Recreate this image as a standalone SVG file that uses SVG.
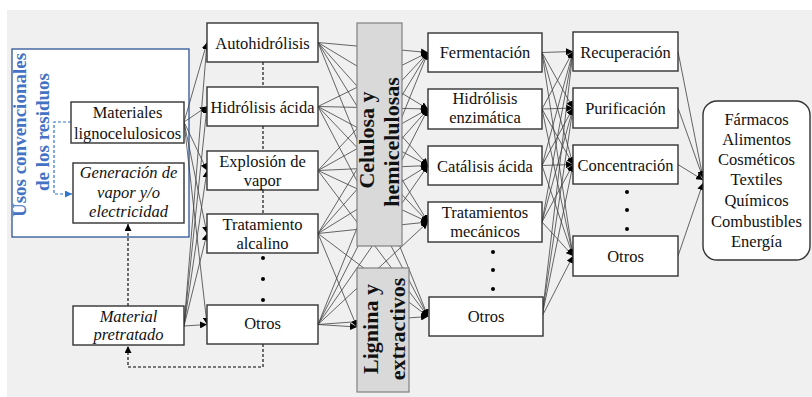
<svg xmlns="http://www.w3.org/2000/svg" width="812" height="397" viewBox="0 0 812 397">
<defs>
<marker id="a" viewBox="0 0 10 10" refX="10" refY="5" markerWidth="7" markerHeight="7" markerUnits="userSpaceOnUse" orient="auto"><path d="M0,0 L10,5 L0,10 z" fill="#000"/></marker>
<marker id="ab" viewBox="0 0 10 10" refX="10" refY="5" markerWidth="7" markerHeight="7" markerUnits="userSpaceOnUse" orient="auto"><path d="M0,0 L10,5 L0,10 z" fill="#2e75d0"/></marker>
<style>
.bx{fill:#fff;stroke:#333;stroke-width:1.4}
.gr{fill:#d9d9d9;stroke:#808080;stroke-width:1.2}
.t{font-family:"Liberation Serif","Times New Roman",serif;font-size:16.5px;fill:#111;text-anchor:middle}
.i{font-style:italic}
.b{font-weight:bold;font-size:22px}
.bl{font-family:"Liberation Serif","Times New Roman",serif;font-weight:bold;font-size:19px;fill:#4472c4;text-anchor:middle}
#connectors line{stroke:#404040;stroke-width:0.8;marker-end:url(#a)}
.d{fill:none;stroke:#000;stroke-width:1.1;stroke-dasharray:3,2}
</style>
</defs>
<rect x="0" y="0" width="812" height="397" fill="#fff"/>
<rect x="7" y="10" width="805" height="387" fill="#f0f0f0"/>

<g id="usos">
<rect x="12" y="49" width="177" height="188" fill="#fff" stroke="#2f5597" stroke-width="1.3"/>
<text class="bl" transform="translate(26,135) rotate(-90)">Usos convencionales</text>
<text class="bl" transform="translate(49,132) rotate(-90)">de los residuos</text>
</g>

<g id="connectors">
<line x1="184" y1="122" x2="207" y2="42.5"/>
<line x1="184" y1="122" x2="207" y2="106.5"/>
<line x1="184" y1="122" x2="207" y2="170.5"/>
<line x1="184" y1="122" x2="207" y2="233.5"/>
<line x1="184" y1="122" x2="207" y2="324.5"/>
<line x1="184" y1="326" x2="207" y2="42.5"/>
<line x1="184" y1="326" x2="207" y2="106.5"/>
<line x1="184" y1="326" x2="207" y2="170.5"/>
<line x1="184" y1="326" x2="207" y2="233.5"/>
<line x1="184" y1="326" x2="207" y2="324.5"/>

<line x1="318" y1="42.5" x2="428" y2="52.5"/>
<line x1="318" y1="42.5" x2="428" y2="109"/>
<line x1="318" y1="42.5" x2="428" y2="165.5"/>
<line x1="318" y1="42.5" x2="428" y2="222"/>
<line x1="318" y1="42.5" x2="428" y2="316.5"/>
<line x1="318" y1="106.5" x2="428" y2="52.5"/>
<line x1="318" y1="106.5" x2="428" y2="109"/>
<line x1="318" y1="106.5" x2="428" y2="165.5"/>
<line x1="318" y1="106.5" x2="428" y2="222"/>
<line x1="318" y1="106.5" x2="428" y2="316.5"/>
<line x1="318" y1="170.5" x2="428" y2="52.5"/>
<line x1="318" y1="170.5" x2="428" y2="109"/>
<line x1="318" y1="170.5" x2="428" y2="165.5"/>
<line x1="318" y1="170.5" x2="428" y2="222"/>
<line x1="318" y1="170.5" x2="428" y2="316.5"/>
<line x1="318" y1="233.5" x2="428" y2="52.5"/>
<line x1="318" y1="233.5" x2="428" y2="109"/>
<line x1="318" y1="233.5" x2="428" y2="165.5"/>
<line x1="318" y1="233.5" x2="428" y2="222"/>
<line x1="318" y1="233.5" x2="428" y2="316.5"/>
<line x1="318" y1="324.5" x2="428" y2="52.5"/>
<line x1="318" y1="324.5" x2="428" y2="109"/>
<line x1="318" y1="324.5" x2="428" y2="165.5"/>
<line x1="318" y1="324.5" x2="428" y2="222"/>
<line x1="318" y1="324.5" x2="428" y2="316.5"/>
<line x1="318" y1="233.5" x2="357" y2="327"/>
<line x1="318" y1="324.5" x2="357" y2="327"/>

<line x1="542" y1="52.5" x2="573" y2="51.5"/>
<line x1="542" y1="52.5" x2="573" y2="108"/>
<line x1="542" y1="52.5" x2="573" y2="164.5"/>
<line x1="542" y1="52.5" x2="573" y2="256"/>
<line x1="542" y1="109" x2="573" y2="51.5"/>
<line x1="542" y1="109" x2="573" y2="108"/>
<line x1="542" y1="109" x2="573" y2="164.5"/>
<line x1="542" y1="109" x2="573" y2="256"/>
<line x1="542" y1="165.5" x2="573" y2="51.5"/>
<line x1="542" y1="165.5" x2="573" y2="108"/>
<line x1="542" y1="165.5" x2="573" y2="164.5"/>
<line x1="542" y1="165.5" x2="573" y2="256"/>
<line x1="542" y1="222" x2="573" y2="51.5"/>
<line x1="542" y1="222" x2="573" y2="108"/>
<line x1="542" y1="222" x2="573" y2="164.5"/>
<line x1="542" y1="222" x2="573" y2="256"/>
<line x1="542" y1="316.5" x2="573" y2="51.5"/>
<line x1="542" y1="316.5" x2="573" y2="108"/>
<line x1="542" y1="316.5" x2="573" y2="164.5"/>
<line x1="542" y1="316.5" x2="573" y2="256"/>

<line x1="678" y1="51.5" x2="703" y2="178"/>
<line x1="678" y1="108" x2="703" y2="178"/>
<line x1="678" y1="164.5" x2="703" y2="180"/>
<line x1="678" y1="256" x2="703" y2="183"/>

<path d="M71,122 H54 V194 H72" fill="none" stroke="#2e75d0" stroke-width="1.2" stroke-dasharray="3,2" marker-end="url(#ab)"/>
<path class="d" d="M128,306 V224" marker-end="url(#a)"/>
<path class="d" d="M263,344 V367 H128 V346" marker-end="url(#a)"/>
<path class="d" d="M263,62 V87 M263,126 V151 M263,190 V214"/>
<g fill="#000">
<circle cx="263" cy="258" r="2"/><circle cx="263" cy="279" r="2"/><circle cx="263" cy="300" r="2"/>
<circle cx="493" cy="252" r="2"/><circle cx="493" cy="270" r="2"/><circle cx="493" cy="289" r="2"/>
<circle cx="627" cy="192" r="2"/><circle cx="627" cy="210" r="2"/><circle cx="627" cy="229" r="2"/>
</g>
</g>

<g id="celulosa">
<rect class="gr" x="357" y="23" width="45" height="223"/>
<text class="t b" transform="translate(374,140) rotate(-90)">Celulosa y</text>
<text class="t b" transform="translate(399,142) rotate(-90)">hemicelulosas</text>
</g>
<g id="lignina">
<rect class="gr" x="357" y="268" width="52" height="124"/>
<text class="t b" transform="translate(378,329) rotate(-90)">Lignina y</text>
<text class="t b" transform="translate(405,329) rotate(-90)">extractivos</text>
</g>

<g id="materiales">
<rect class="bx" x="71" y="102" width="113" height="41"/>
<text class="t" x="127.5" y="118">Materiales</text>
<text class="t" x="127.5" y="139">lignocelulosicos</text>
</g>
<g id="generacion">
<rect class="bx" x="73" y="163" width="111" height="60"/>
<text class="t i" x="128.5" y="178">Generación de</text>
<text class="t i" x="128.5" y="198">vapor y/o</text>
<text class="t i" x="128.5" y="217">electricidad</text>
</g>
<g id="pretratado">
<rect class="bx" x="73" y="306" width="111" height="39"/>
<text class="t i" x="128.5" y="322">Material</text>
<text class="t i" x="128.5" y="340">pretratado</text>
</g>

<g id="autohidrolisis">
<rect class="bx" x="207" y="23" width="111" height="39"/>
<text class="t" x="262.5" y="49">Autohidrólisis</text>
</g>
<g id="hidrolisis-acida">
<rect class="bx" x="207" y="87" width="111" height="39"/>
<text class="t" x="262.5" y="113">Hidrólisis ácida</text>
</g>
<g id="explosion">
<rect class="bx" x="207" y="151" width="111" height="39"/>
<text class="t" x="262.5" y="167">Explosión de</text>
<text class="t" x="262.5" y="186">vapor</text>
</g>
<g id="alcalino">
<rect class="bx" x="207" y="214" width="111" height="39"/>
<text class="t" x="262.5" y="230">Tratamiento</text>
<text class="t" x="262.5" y="249">alcalino</text>
</g>
<g id="otros2">
<rect class="bx" x="207" y="305" width="111" height="39"/>
<text class="t" x="262.5" y="329">Otros</text>
</g>

<g id="fermentacion">
<rect class="bx" x="428" y="33" width="114" height="39"/>
<text class="t" x="485" y="58">Fermentación</text>
</g>
<g id="enzimatica">
<rect class="bx" x="428" y="89" width="114" height="40"/>
<text class="t" x="485" y="104">Hidrólisis</text>
<text class="t" x="485" y="123">enzimática</text>
</g>
<g id="catalisis">
<rect class="bx" x="428" y="146" width="114" height="39"/>
<text class="t" x="485" y="172">Catálisis ácida</text>
</g>
<g id="mecanicos">
<rect class="bx" x="428" y="202" width="114" height="40"/>
<text class="t" x="485" y="218">Tratamientos</text>
<text class="t" x="485" y="237">mecánicos</text>
</g>
<g id="otros3">
<rect class="bx" x="429" y="297" width="114" height="39"/>
<text class="t" x="486" y="322">Otros</text>
</g>

<g id="recuperacion">
<rect class="bx" x="573" y="32" width="105" height="39"/>
<text class="t" x="625.5" y="58">Recuperación</text>
</g>
<g id="purificacion">
<rect class="bx" x="573" y="88" width="105" height="40"/>
<text class="t" x="625.5" y="114">Purificación</text>
</g>
<g id="concentracion">
<rect class="bx" x="573" y="145" width="105" height="39"/>
<text class="t" x="625.5" y="171">Concentración</text>
</g>
<g id="otros4">
<rect class="bx" x="573" y="236" width="105" height="40"/>
<text class="t" x="625.5" y="262">Otros</text>
</g>

<g id="productos">
<rect class="bx" x="703" y="101" width="107" height="159" rx="14"/>
<text class="t" x="756.5" y="125">Fármacos</text>
<text class="t" x="756.5" y="145">Alimentos</text>
<text class="t" x="756.5" y="165">Cosméticos</text>
<text class="t" x="756.5" y="185">Textiles</text>
<text class="t" x="756.5" y="206">Químicos</text>
<text class="t" x="756.5" y="227">Combustibles</text>
<text class="t" x="756.5" y="247">Energía</text>
</g>
</svg>
